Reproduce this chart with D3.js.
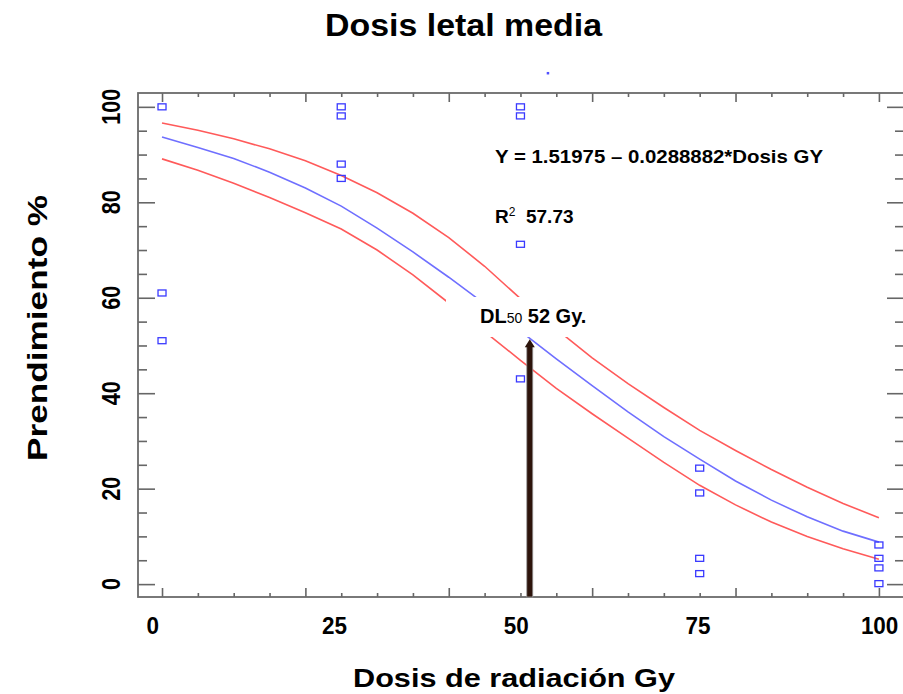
<!DOCTYPE html>
<html>
<head>
<meta charset="utf-8">
<script src="https://cdn.jsdelivr.net/npm/d3@7"></script>
<style>
  body { margin: 0; background: #fff; }
  text { font-family: "Liberation Sans", Arial, sans-serif; font-weight: bold; fill: #000; }
</style>
</head>
<body>
<div id="chart"></div>
<script>
// Dosis letal media - probit fit with confidence bands
// x: dose (Gy), y: prendimiento %

var doseGrid = [0, 5, 10, 15, 20, 25, 30, 35, 40, 45, 50, 55, 60, 65, 70, 75, 80, 85, 90, 95, 100];
var fitValues = [93.7, 91.5, 89.2, 86.3, 83.0, 79.2, 74.6, 69.6, 64.3, 58.7, 53.0, 47.2, 41.6, 36.1, 30.9, 26.2, 21.6, 17.6, 14.1, 11.1, 8.8];
var upperValues = [96.6, 95.1, 93.3, 91.2, 88.7, 85.6, 82.0, 77.7, 72.6, 66.6, 59.8, 53.4, 47.4, 42.0, 37.0, 32.2, 28.0, 24.0, 20.3, 16.9, 13.9];
var lowerValues = [89.1, 86.7, 84.0, 81.0, 77.8, 74.4, 70.0, 64.8, 58.9, 52.9, 46.9, 41.0, 35.7, 30.6, 25.5, 20.7, 16.6, 13.0, 10.0, 7.4, 5.2];

var pointDose = [0, 0, 0, 25, 25, 25, 25, 50, 50, 50, 50, 75, 75, 75, 75, 100, 100, 100, 100];
var pointYield = [100, 61, 51, 100, 98.1, 88, 85, 100, 98.1, 71.2, 43, 24.3, 19.1, 5.4, 2.2, 8.2, 5.4, 3.4, 0.1];

// stray dot above the frame
var strayDose = [53.8];
var strayYield = [107.1];

var dl50Dose = 51.3;
var dl50Yield = 51.3;

var xTickLabels = [0, 25, 50, 75, 100];
var yTickLabels = [0, 20, 40, 60, 80, 100];
var majorTicks = [0, 20, 40, 60, 80, 100];

var titleText = "Dosis letal media";
var xTitle = "Dosis de radiación Gy";
var yTitle = "Prendimiento %";
var equationText = "Y = 1.51975 \u2013 0.0288882*Dosis GY";

var width = 903, height = 694;
var frame = { left: 138, right: 904, top: 93, bottom: 597 };

var x = d3.scaleLinear().domain([-3.35, 103.5]).range([frame.left, frame.right]);
var y = d3.scaleLinear().domain([-2.7, 102.9]).range([frame.bottom, frame.top]);
// the tick labels under the axis sit on their own, slightly wider spacing
var xLabel = d3.scaleLinear().domain([0, 100]).range([x(-1.3), x(100.1)]);

var svg = d3.select("#chart").append("svg")
    .attr("width", width)
    .attr("height", height);

var minorTicks = d3.range(0, 101, 5).filter(function (d) { return majorTicks.indexOf(d) < 0; });

// tick marks on all four sides, pointing inward
function tickGroup(axis, tx, ty) {
    var g = svg.append("g")
        .attr("transform", "translate(" + tx + "," + ty + ")")
        .call(axis);
    g.select(".domain").remove();
    g.selectAll(".tick line").attr("stroke", "#666").attr("stroke-width", 1.6);
    g.selectAll(".tick text").remove();
}
tickGroup(d3.axisBottom(x).tickValues(majorTicks).tickSize(-9), 0, frame.bottom);
tickGroup(d3.axisBottom(x).tickValues(minorTicks).tickSize(-4), 0, frame.bottom);
tickGroup(d3.axisTop(x).tickValues(majorTicks).tickSize(-9), 0, frame.top);
tickGroup(d3.axisTop(x).tickValues(minorTicks).tickSize(-4), 0, frame.top);
tickGroup(d3.axisLeft(y).tickValues(majorTicks).tickSize(-17), frame.left, 0);
tickGroup(d3.axisLeft(y).tickValues(minorTicks).tickSize(-9), frame.left, 0);
tickGroup(d3.axisRight(y).tickValues(majorTicks).tickSize(-17), frame.right, 0);
tickGroup(d3.axisRight(y).tickValues(minorTicks).tickSize(-9), frame.right, 0);

// frame
svg.append("rect")
    .attr("x", frame.left)
    .attr("y", frame.top)
    .attr("width", frame.right - frame.left)
    .attr("height", frame.bottom - frame.top)
    .attr("fill", "none")
    .attr("stroke", "#6b6b6b")
    .attr("stroke-width", 1.8);

// lines
function series(vals) {
    return doseGrid.map(function (d, i) { return { dose: d, value: vals[i] }; });
}
var line = d3.line()
    .x(function (d) { return x(d.dose); })
    .y(function (d) { return y(d.value); });

[[upperValues, "#ff5a5a"], [lowerValues, "#ff5a5a"], [fitValues, "#6f6fff"]].forEach(function (s) {
    svg.append("path")
        .datum(series(s[0]))
        .attr("d", line)
        .attr("fill", "none")
        .attr("stroke", s[1])
        .attr("stroke-width", 1.6);
});

// points
var points = pointDose.map(function (d, i) { return { dose: d, value: pointYield[i] }; });
svg.selectAll(".pt")
    .data(points)
    .enter().append("rect")
    .attr("class", "pt")
    .attr("x", function (d) { return x(d.dose) - 4; })
    .attr("y", function (d) { return y(d.value) - 3; })
    .attr("width", 8)
    .attr("height", 6)
    .attr("fill", "none")
    .attr("stroke", "#3a3aff")
    .attr("stroke-width", 1.3);

svg.selectAll(".stray")
    .data(strayDose.map(function (d, i) { return { dose: d, value: strayYield[i] }; }))
    .enter().append("rect")
    .attr("class", "stray")
    .attr("x", function (d) { return x(d.dose) - 1; })
    .attr("y", function (d) { return y(d.value) - 1; })
    .attr("width", 2.5)
    .attr("height", 2.5)
    .attr("fill", "#5050ff");

// white box behind DL50 label
svg.append("rect")
    .attr("x", 446).attr("y", 297)
    .attr("width", 152).attr("height", 40)
    .attr("fill", "#fff");

// DL50 arrow
var ax = x(dl50Dose), atip = y(dl50Yield);
svg.append("rect")
    .attr("x", ax - 3).attr("y", atip + 6)
    .attr("width", 6).attr("height", frame.bottom - atip - 6)
    .attr("fill", "#2d140b")
    .attr("stroke", "#9a9a9a")
    .attr("stroke-width", 0.8);
svg.append("path")
    .attr("d", "M" + (ax - 5) + "," + (atip + 8) + "L" + ax + "," + atip + "L" + (ax + 5) + "," + (atip + 8) + "Z")
    .attr("fill", "#2d140b");

var dl = svg.append("text")
    .attr("x", 480).attr("y", 323)
    .style("font-size", "20px");
dl.append("tspan").text("DL");
dl.append("tspan").style("font-size", "14px").style("font-weight", "normal").text("50");
dl.append("tspan").text(" 52 Gy.");

// equation and R2
svg.append("text")
    .attr("x", 495).attr("y", 163)
    .style("font-size", "19px")
    .attr("textLength", 328)
    .attr("lengthAdjust", "spacingAndGlyphs")
    .text(equationText);

var r2 = svg.append("text")
    .attr("x", 495).attr("y", 223)
    .style("font-size", "19px");
r2.append("tspan").text("R");
r2.append("tspan").attr("dy", -7).style("font-size", "12px").style("font-weight", "normal").text("2");
r2.append("tspan").attr("dy", 7).text("\u00a0 57.73");

// tick labels
svg.selectAll(".xlab")
    .data(xTickLabels)
    .enter().append("text")
    .attr("class", "xlab")
    .attr("x", function (d) { return xLabel(d); })
    .attr("y", 634)
    .attr("text-anchor", "middle")
    .style("font-size", "23px")
    .attr("textLength", function (d) { return String(d).length * 12.5; })
    .attr("lengthAdjust", "spacingAndGlyphs")
    .text(function (d) { return d; });

svg.selectAll(".ylab")
    .data(yTickLabels)
    .enter().append("text")
    .attr("class", "ylab")
    .attr("transform", function (d) { return "translate(120," + y(d) + ") rotate(-90)"; })
    .attr("text-anchor", "middle")
    .style("font-size", "25px")
    .attr("textLength", function (d) { return String(d).length * 12; })
    .attr("lengthAdjust", "spacingAndGlyphs")
    .text(function (d) { return d; });

// titles
svg.append("text")
    .attr("x", 325).attr("y", 36)
    .style("font-size", "32px")
    .attr("textLength", 277)
    .attr("lengthAdjust", "spacingAndGlyphs")
    .text(titleText);

svg.append("text")
    .attr("x", 353).attr("y", 687)
    .style("font-size", "26px")
    .attr("textLength", 322)
    .attr("lengthAdjust", "spacingAndGlyphs")
    .text(xTitle);

svg.append("text")
    .attr("transform", "translate(47,328) rotate(-90)")
    .attr("text-anchor", "middle")
    .style("font-size", "28px")
    .attr("textLength", 266)
    .attr("lengthAdjust", "spacingAndGlyphs")
    .text(yTitle);
</script>
</body>
</html>
